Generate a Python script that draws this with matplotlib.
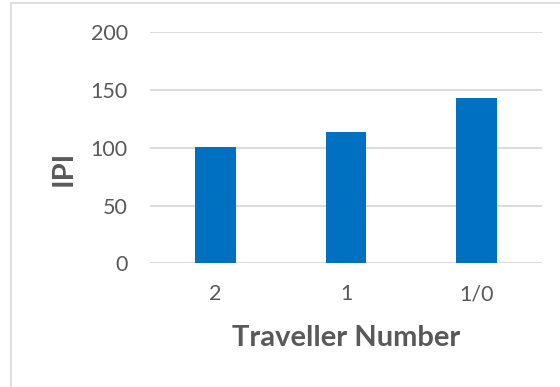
import matplotlib

matplotlib.use("Agg")
import matplotlib.pyplot as plt
from matplotlib.patches import Rectangle

categories = ["2", "1", "1/0"]
ipi_values = [101, 114, 143]
y_ticks = [0, 50, 100, 150, 200]

BAR = "#0070C0"
GRID = "#D9D9D9"
TEXT = "#595959"

W, H = 560, 387
plt.rcParams["font.family"] = ["Lato", "DejaVu Sans"]

fig = plt.figure(figsize=(W / 100, H / 100), dpi=100)
ax = fig.add_axes([150 / W, 1 - 263.3 / H, (542 - 150) / W, (263.3 - 32.3) / H])

x = list(range(len(categories)))
ax.bar(x, ipi_values, width=0.31, color=BAR, zorder=3)

ax.set_xlim(-0.5, len(categories) - 0.5)
ax.set_ylim(0, 200)
ax.set_yticks(y_ticks)
ax.set_xticks(x)
ax.set_xticklabels(categories)
ax.grid(axis="y", color=GRID, linewidth=1.3, zorder=0)
for side in ("top", "right", "left", "bottom"):
    ax.spines[side].set_visible(False)
ax.tick_params(axis="both", length=0, colors=TEXT, labelsize=15.5)
ax.tick_params(axis="y", pad=16)
ax.tick_params(axis="x", pad=15)

ax.set_xlabel("Traveller Number", fontsize=21, fontweight="bold", color=TEXT)
ax.xaxis.set_label_coords(0.5, -0.265)
ax.set_ylabel("IPI", fontsize=21, fontweight="bold", color=TEXT)
ax.yaxis.set_label_coords(-0.186, 0.41)

fig.add_artist(
    Rectangle(
        (11 / W, -0.1),
        1.2,
        1.1 - 3 / H,
        transform=fig.transFigure,
        fill=False,
        edgecolor=GRID,
        linewidth=1.2,
    )
)

fig.savefig("out.png", dpi=100, facecolor="white")
